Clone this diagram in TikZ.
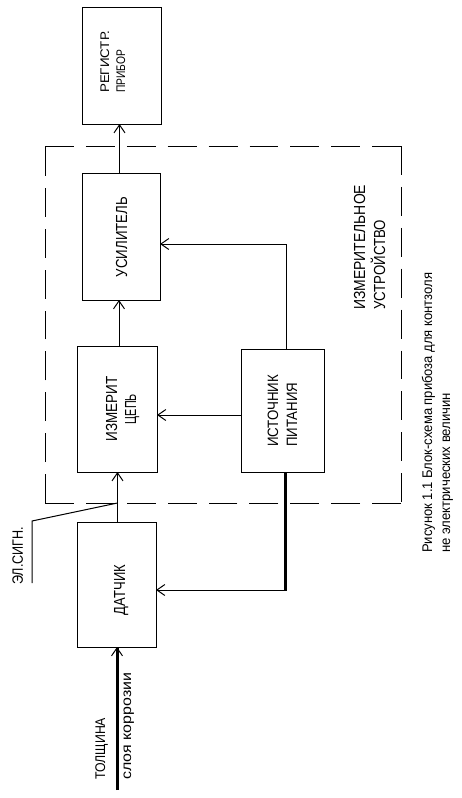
\documentclass[tikz,border=0pt]{standalone}
\usepackage{fontspec}
\setmainfont{Liberation Sans}
\usetikzlibrary{arrows.meta}
\newcommand{\fw}[2]{\resizebox{#1pt}{\height}{#2}}
\begin{document}
\begin{tikzpicture}[x=1pt,y=-1pt,
  blk/.style={draw, line width=1pt, inner sep=0pt, outer sep=0pt, anchor=north west},
  arr/.style={line width=1pt, -{Straight Barb[length=8pt,width=11pt,line width=1pt]}},
  thk/.style={line width=3pt},
  dside/.style={line width=1pt, dash pattern=on 28.9pt off 12pt},
  lbl/.style={rotate=90, inner sep=0pt, font=\fontsize{16}{18}\selectfont},
  sml/.style={rotate=90, inner sep=0pt, font=\fontsize{12.5}{14}\selectfont},
  captxt/.style={rotate=90, inner sep=0pt, font=\fontsize{14}{16}\selectfont},
  midtxt/.style={rotate=90, inner sep=0pt, font=\fontsize{15}{17}\selectfont}]
\fill[white] (0,0) rectangle (462,798);
\useasboundingbox (0,0) rectangle (462,798);

% blocks
\node[blk, minimum width=79pt, minimum height=117pt] (reg) at (82,7) {};
\node[blk, minimum width=78pt, minimum height=127pt] (usil) at (82,173) {};
\node[blk, minimum width=80pt, minimum height=126pt] (izm) at (77,346) {};
\node[blk, minimum width=83pt, minimum height=123pt] (ist) at (241,349) {};
\node[blk, minimum width=79pt, minimum height=125pt] (dat) at (77,522) {};
\node[draw=none, inner sep=0pt, outer sep=0pt, anchor=north west,
      minimum width=356pt, minimum height=357pt] (dev) at (45,146) {};

% dashed device frame
\draw[dside] (dev.north west) -- (dev.north east);
\draw[dside] (dev.north east) -- (dev.south east);
\draw[dside] (dev.south east) -- (dev.south west);
\draw[dside] (dev.south west) -- (dev.north west);

% connectors
\draw[arr] ([xshift=-1.5pt]usil.north) -- ([xshift=-1.5pt]usil.north |- reg.south);
\draw[arr] ([xshift=2pt]izm.north) -- ([xshift=2pt]izm.north |- usil.south);
\draw[arr] ([xshift=1pt]dat.north) -- ([xshift=1pt]dat.north |- izm.south);
\draw[arr] ([xshift=3.5pt]ist.north) |- ([yshift=-7.5pt]usil.east);
\draw[arr] ([yshift=-4.5pt]ist.west) -- ([yshift=-4.5pt]ist.west -| izm.east);
\coordinate (pc) at (285,590);
\draw[thk] ([xshift=2.5pt]ist.south) -- ([yshift=-1pt]pc);
\draw[arr] (pc) -- (pc -| dat.east);
\coordinate (inp) at (117,790);
\draw[thk, -{Straight Barb[length=8pt,width=11pt,line width=1pt]}] (inp) -- (inp |- dat.south);

% signal leader
\coordinate (es) at ([xshift=1pt]dat.north |- dev.south);
\coordinate (el1) at (32,583);
\coordinate (el2) at (32,521);
\draw[line width=1pt] (el1) -- (el2) -- (es);

% texts
\node[sml, anchor=base west] (treg1) at (109,93) {\fw{62}{РЕГИСТР.}};
\node[sml, anchor=base west] (treg2) at (125,93) {\fw{43}{ПРИБОР}};
\node[lbl, anchor=base] (tusil) at (127,237) {\fw{80}{УСИЛИТЕЛЬ}};
\node[lbl, anchor=base] (tizm1) at (117,409) {\fw{65}{ИЗМЕРИТ}};
\node[lbl, anchor=base] (tizm2) at (136,409) {\fw{30}{ЦЕПЬ}};
\node[midtxt, anchor=base west] (tist1) at (278,447) {\fw{72}{ИСТОЧНИК}};
\node[midtxt, anchor=base west] (tist2) at (297,447) {\fw{64}{ПИТАНИЯ}};
\node[lbl, anchor=base] (tdat) at (125,590) {\fw{50}{ДАТЧИК}};
\node[lbl, anchor=base west] (tdev1) at (365,310) {\fw{125}{ИЗМЕРИТЕЛЬНОЕ}};
\node[lbl, anchor=base west] (tdev2) at (385,310) {\fw{90}{УСТРОЙСТВО}};
\node[midtxt, anchor=base west] (tel) at (23,585) {\fw{58}{ЭЛ.СИГН.}};
\node[captxt, anchor=base west] (tin1) at (105,780) {\fw{62}{ТОЛЩИНА}};
\node[captxt, anchor=base west] (tin2) at (131,780) {\fw{107}{слоя коррозии}};
\node[captxt, anchor=base west] (tcap1) at (432,553) {\fw{280}{Рисунок 1.1 Блок-схема прибоза для контзоля}};
\node[captxt, anchor=base west] (tcap2) at (450,553) {\fw{160}{не электрических величин}};
\end{tikzpicture}
\end{document}
